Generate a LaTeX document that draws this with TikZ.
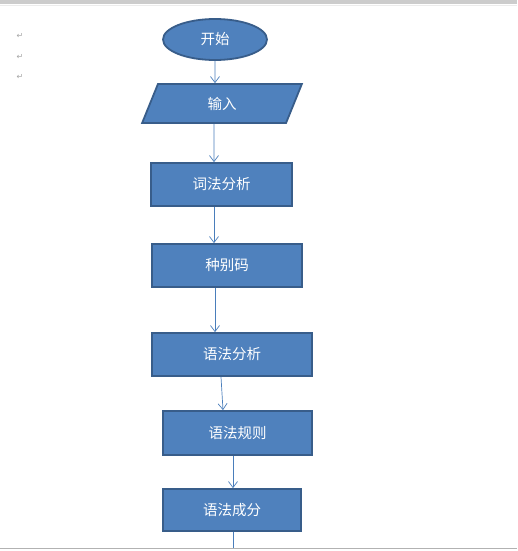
\documentclass[tikz,border=0pt]{standalone}
\usepackage{fontspec}
\newfontfamily\cjk{Noto Sans CJK SC}
\newfontfamily\symfont{DejaVu Sans}
\usetikzlibrary{shapes.geometric}
\usetikzlibrary{arrows.meta}
\definecolor{boxblue}{HTML}{4F81BD}
\definecolor{boxedge}{HTML}{385D8A}
\definecolor{arrowblue}{HTML}{4A7EBB}
\tikzstyle{every picture}+=[x=1pt,y=-1pt]
\tikzstyle{stepbox}=[draw=boxedge, fill=boxblue, line width=1.8pt, text=white, font=\cjk\fontsize{14.5}{15}\selectfont, inner sep=0pt]
\tikzstyle{flow}=[draw=arrowblue, line width=0.7pt, -{Straight Barb[length=6pt,width=9pt]}]
\tikzstyle{retmark}=[text=gray!70, font=\symfont\fontsize{8}{8}\selectfont]

\begin{document}
\begin{tikzpicture}
		\useasboundingbox (0,0) rectangle (517,551);
		\fill[white] (0,0) rectangle (517,551);
		\fill[gray!40] (0,0) rectangle (517,4);
		\draw[gray!15] (0,5.5) -- (517,5.5);
		\draw[gray!60, line width=1pt] (0,548) -- (517,548);
		\node[retmark] (ret1) at (20,36) {↵};
		\node[retmark] (ret2) at (20,57) {↵};
		\node[retmark] (ret3) at (20,77) {↵};
		\node[stepbox, ellipse, minimum width=104, minimum height=41] (start) at (215,39.5) {开始};
		\node[stepbox, trapezium, trapezium left angle=75, trapezium right angle=105, trapezium stretches=true, minimum width=160, minimum height=39] (input) at (222,103.5) {输入};
		\node[stepbox, rectangle, minimum width=141, minimum height=43] (lex) at (221.5,184.5) {词法分析};
		\node[stepbox, rectangle, minimum width=150, minimum height=43] (kind) at (227,265.5) {种别码};
		\node[stepbox, rectangle, minimum width=160, minimum height=43] (syn) at (232,354.5) {语法分析};
		\node[stepbox, rectangle, minimum width=149, minimum height=44] (rule) at (237.5,433) {语法规则};
		\node[stepbox, rectangle, minimum width=138, minimum height=42] (part) at (232,510) {语法成分};
		\coordinate (out) at (233,548);
		\draw[flow] (start.south) -- ([xshift=-7pt]input.north);
		\draw[flow] ([xshift=-8pt]input.south) -- ([xshift=-7.5pt]lex.north);
		\draw[flow] ([xshift=-7.5pt]lex.south) -- ([xshift=-13pt]kind.north);
		\draw[flow] ([xshift=-12pt]kind.south) -- ([xshift=-17pt]syn.north);
		\draw[flow] ([xshift=-11pt]syn.south) -- ([xshift=-14.5pt]rule.north);
		\draw[flow] ([xshift=-4.5pt]rule.south) -- ([xshift=1pt]part.north);
		\draw[draw=arrowblue, line width=0.7pt] ([xshift=1pt]part.south) -- (out);
		\end{tikzpicture}
\end{document}
